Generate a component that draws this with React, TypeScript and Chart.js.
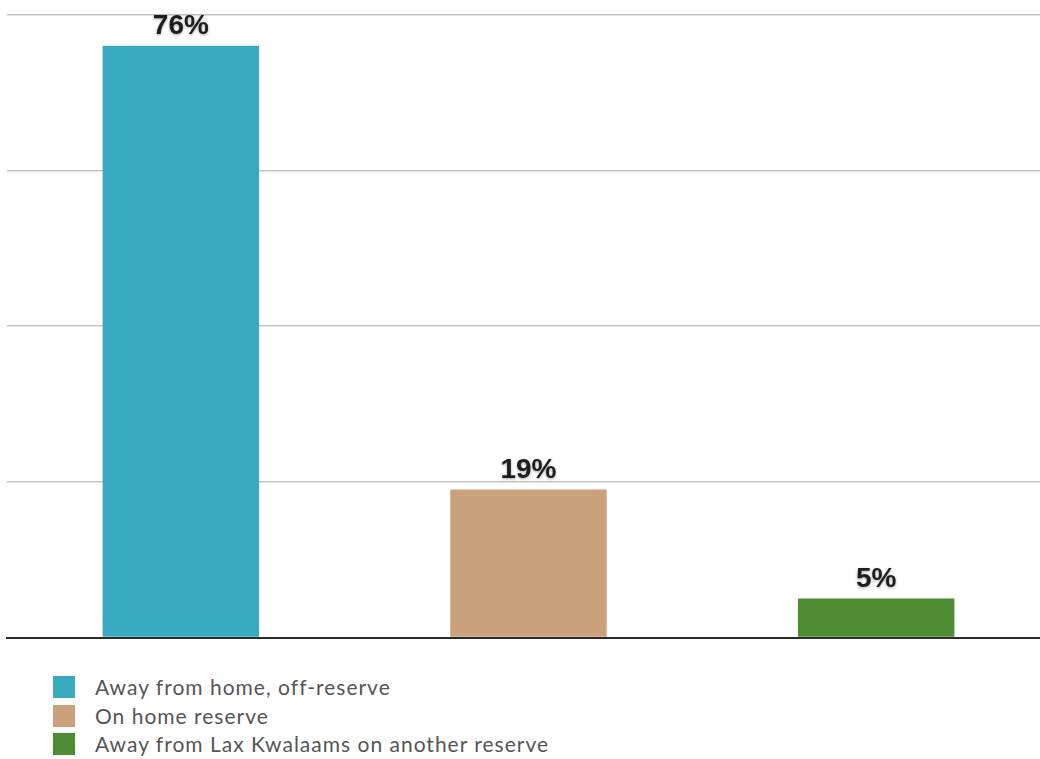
import React, { useEffect, useRef } from "react";
import { Chart, registerables } from "chart.js";

Chart.register(...registerables);

const categories = [
  "Away from home, off-reserve",
  "On home reserve",
  "Away from Lax Kwalaams on another reserve",
];
const values = [76, 19, 5];
const colors = ["#38aac0", "#caa17a", "#4e8c33"];
const yTicks = [0, 20, 40, 60, 80];

const labelPlugin = {
  id: "valueLabels",
  afterDatasetsDraw(chart: any) {
    const ctx = chart.ctx;
    const meta = chart.getDatasetMeta(0);
    ctx.save();
    ctx.font = "bold 28px 'Liberation Sans', Arial, sans-serif";
    ctx.fillStyle = "#1e1e1e";
    ctx.textAlign = "center";
    ctx.textBaseline = "alphabetic";
    ctx.shadowColor = "rgba(0,0,0,0.35)";
    ctx.shadowBlur = 3;
    ctx.shadowOffsetY = 1;
    meta.data.forEach((el: any, i: number) => {
      ctx.fillText(values[i] + "%", el.x, el.y - 12);
    });
    ctx.restore();
  },
};

export default function App() {
  const ref = useRef<HTMLCanvasElement>(null);
  useEffect(() => {
    document.body.style.overflow = "hidden";
    if (!ref.current) return;
    const chart = new Chart(ref.current, {
      type: "bar",
      data: {
        labels: categories,
        datasets: [
          {
            data: values,
            backgroundColor: colors,
            borderWidth: 0,
            barPercentage: 0.45,
            categoryPercentage: 1,
          },
        ],
      },
      options: {
        animation: false,
        responsive: false,
        layout: { padding: { left: 7, top: 14.5, right: 2, bottom: 12.5 } },
        plugins: { legend: { display: false }, tooltip: { enabled: false } },
        scales: {
          x: {
            display: true,
            z: 1,
            grid: { display: false, drawTicks: false },
            ticks: { display: false },
            border: { display: true, color: "#2a2a2a", width: 2 },
          },
          y: {
            min: yTicks[0],
            max: yTicks[yTicks.length - 1],
            afterBuildTicks: (scale: any) => {
              scale.ticks = yTicks.map((v) => ({ value: v }));
            },
            ticks: { display: false },
            grid: {
              drawTicks: false,
              color: (c: any) => (c.tick && c.tick.value === 0 ? "rgba(0,0,0,0)" : "#c4c4c4"),
              lineWidth: 1.5,
            },
            border: { display: false },
          },
        },
      },
      plugins: [labelPlugin],
    });
    return () => chart.destroy();
  }, []);

  return (
    <div
      style={{
        position: "fixed",
        left: 0,
        top: 0,
        width: 1040,
        height: 759,
        overflow: "hidden",
        background: "#fff",
      }}
    >
      <canvas
        ref={ref}
        width={1052}
        height={650}
        style={{ position: "absolute", left: 0, top: 0, width: 1052, height: 650 }}
      />
      {categories.map((c, i) => (
        <div
          key={c}
          style={{
            position: "absolute",
            left: 53,
            top: 676 + i * 28.5,
            height: 22,
            display: "flex",
            alignItems: "center",
            whiteSpace: "nowrap",
          }}
        >
          <span
            style={{
              display: "inline-block",
              width: 22,
              height: 22,
              background: colors[i],
              marginRight: 20,
            }}
          />
          <span
            style={{
              fontFamily: "Lato, 'Open Sans', sans-serif",
              fontSize: 21,
              letterSpacing: "1px",
              color: "#555",
              lineHeight: "22px",
            }}
          >
            {c}
          </span>
        </div>
      ))}
    </div>
  );
}
